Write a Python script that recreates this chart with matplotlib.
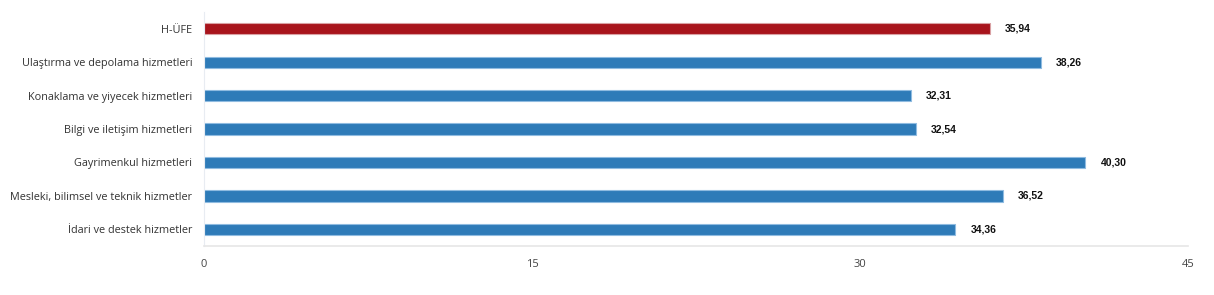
import matplotlib.pyplot as plt

kategoriler = ['H-ÜFE',
               'Ulaştırma ve depolama hizmetleri',
               'Konaklama ve yiyecek hizmetleri',
               'Bilgi ve iletişim hizmetleri',
               'Gayrimenkul hizmetleri',
               'Mesleki, bilimsel ve teknik hizmetler',
               'İdari ve destek hizmetler']
degerler = [35.94, 38.26, 32.31, 32.54, 40.30, 36.52, 34.36]
renkler = ['#A8141C', '#2E7BB8', '#2E7BB8', '#2E7BB8', '#2E7BB8', '#2E7BB8', '#2E7BB8']
kenarlar = ['#d9a0a3', '#8fbbe0', '#8fbbe0', '#8fbbe0', '#8fbbe0', '#8fbbe0', '#8fbbe0']
x_ticks = [0, 15, 30, 45]

fig = plt.figure(figsize=(12.14, 2.95), dpi=100)
ax = fig.add_axes([0.168, 0.166, 0.8106, 0.793])

y = range(len(kategoriler))
ax.barh(y, degerler, height=0.34, color=renkler, edgecolor=kenarlar, linewidth=0.8)

# deger etiketleri
for i, v in enumerate(degerler):
    ax.annotate(f'{v:.2f}'.replace('.', ','), (v, i), xytext=(11, 0),
                textcoords='offset points', va='center', ha='left',
                fontsize=7.5, fontweight='bold', family='Liberation Sans', color='#111111')

ax.set_ylim(len(kategoriler) - 0.5, -0.5)
ax.set_xlim(0, 45)
ax.set_xticks(x_ticks)
ax.set_xticklabels([str(t) for t in x_ticks], fontsize=8, family='Open Sans', color='#444444')
ax.set_yticks(list(y))
ax.set_yticklabels(kategoriler, fontsize=7.8, family='Open Sans', color='#333333')
ax.tick_params(axis='both', length=0)
ax.tick_params(axis='x', pad=9)
ax.tick_params(axis='y', pad=8.5)

for s in ['top', 'right']:
    ax.spines[s].set_visible(False)
ax.spines['bottom'].set_color('#e6e6e6')
ax.spines['bottom'].set_linewidth(1.2)
ax.spines['left'].set_color('#e8ecf2')
ax.spines['left'].set_linewidth(0.8)

plt.savefig('out.png', dpi=100)
